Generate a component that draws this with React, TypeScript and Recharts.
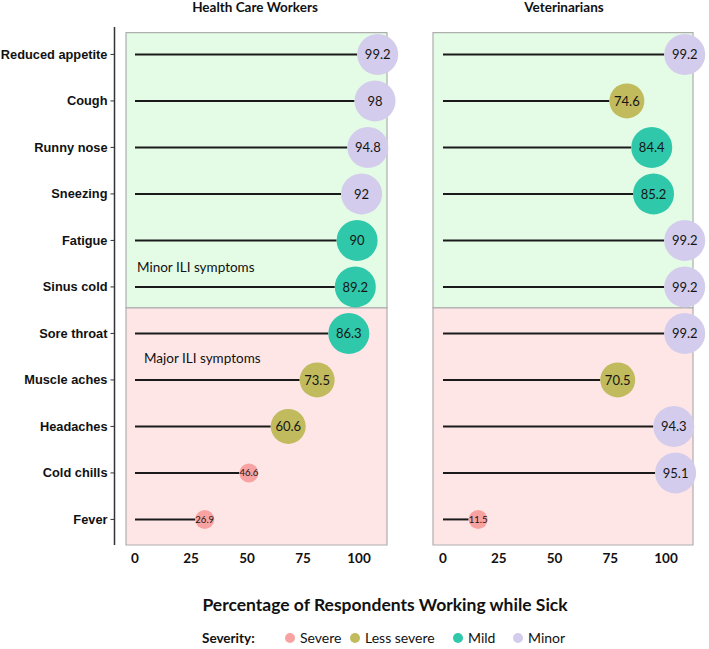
import React from 'react';
import {
  ScatterChart, Scatter, XAxis, YAxis, ReferenceArea, ReferenceLine, ReferenceDot,
} from 'recharts';

const symptoms = [
  'Reduced appetite', 'Cough', 'Runny nose', 'Sneezing', 'Fatigue', 'Sinus cold',
  'Sore throat', 'Muscle aches', 'Headaches', 'Cold chills', 'Fever',
];
const hcwValues = [99.2, 98, 94.8, 92, 90, 89.2, 86.3, 73.5, 60.6, 46.6, 26.9];
const hcwSeverity = ['Minor', 'Minor', 'Minor', 'Minor', 'Mild', 'Mild', 'Mild', 'Less severe', 'Less severe', 'Severe', 'Severe'];
const vetValues = [99.2, 74.6, 84.4, 85.2, 99.2, 99.2, 99.2, 70.5, 94.3, 95.1, 11.5];
const vetSeverity = ['Minor', 'Less severe', 'Mild', 'Mild', 'Minor', 'Minor', 'Minor', 'Less severe', 'Minor', 'Minor', 'Severe'];
const severityLevels = ['Severe', 'Less severe', 'Mild', 'Minor'];
const xTicks = [0, 25, 50, 75, 100];
const panelTitles = ['Health Care Workers', 'Veterinarians'];
const groupLabels = ['Minor ILI symptoms', 'Major ILI symptoms'];

const sevColor: Record<string, string> = {
  Severe: '#F9A2A2',
  'Less severe': '#C1BB5E',
  Mild: '#30C8AA',
  Minor: '#D4CCEC',
};
const sevRadius: Record<string, number> = {
  Severe: 9.5,
  'Less severe': 17.5,
  Mild: 20.5,
  Minor: 20.5,
};

const build = (vals: number[], sev: string[]) =>
  vals.map((v, i) => ({ x: v, y: i, sev: sev[i], name: symptoms[i] }));
const hcwData = build(hcwValues, hcwSeverity);
const vetData = build(vetValues, vetSeverity);

const Y_DOMAIN: [number, number] = [-0.59, 10.55];
const yTicks = symptoms.map((_, i) => i);

const Bubble = (props: any) => {
  const { cx, cy, payload } = props;
  if (cx == null || cy == null) return null;
  const r = sevRadius[payload.sev];
  const small = payload.sev === 'Severe';
  return (
    <g>
      <circle cx={cx + r} cy={cy} r={r} fill={sevColor[payload.sev]} />
      <text
        x={cx + r}
        y={cy}
        textAnchor="middle"
        dominantBaseline="central"
        fontFamily="Lato, 'Open Sans', sans-serif"
        fontSize={small ? 9.5 : 13}
        fill="#151515"
      >
        {payload.x}
      </text>
    </g>
  );
};

const tickStyle = { fontFamily: 'Lato, sans-serif', fontWeight: 700, fontSize: 13.5, fill: '#111' };
const GREEN = '#E4FCE6';
const PINK = '#FEE6E7';
const BORDER = '#AEAEAE';

function Panel({ data, left, width, margin, xDomain, areaX, showY, showLabels }: any) {
  return (
    <div style={{ position: 'absolute', left, top: 0 }}>
      <ScatterChart width={width} height={649} margin={margin}>
        <XAxis
          type="number"
          dataKey="x"
          domain={xDomain}
          ticks={xTicks}
          interval={0}
          axisLine={false}
          tickLine={false}
          tick={tickStyle}
          height={30}
        />
        <YAxis
          type="number"
          dataKey="y"
          domain={Y_DOMAIN}
          reversed
          ticks={yTicks}
          interval={0}
          hide={!showY}
          width={showY ? 114.5 : 0}
          tickFormatter={(i: number) => symptoms[i] ?? ''}
          tickSize={4}
          tickMargin={3}
          axisLine={{ stroke: '#333', strokeWidth: 1.5 }}
          tickLine={{ stroke: '#333' }}
          tick={{ fontFamily: "'Liberation Sans', Arial, sans-serif", fontWeight: 700, fontSize: 12.8, fill: '#111' }}
        />
        <ReferenceArea x1={areaX[0]} x2={areaX[1]} y1={-0.47} y2={5.45} fill={GREEN} fillOpacity={1} stroke={BORDER} strokeWidth={1.2} />
        <ReferenceArea x1={areaX[0]} x2={areaX[1]} y1={5.45} y2={10.55} fill={PINK} fillOpacity={1} stroke={BORDER} strokeWidth={1.2} />
        {data.map((d: any) => (
          <ReferenceLine
            key={d.name}
            segment={[{ x: 0, y: d.y }, { x: d.x, y: d.y }]}
            stroke="#1a1a1a"
            strokeWidth={2}
          />
        ))}
        {showLabels && (
          <ReferenceDot
            x={0.9}
            y={4.57}
            r={0}
            fill="none"
            stroke="none"
            label={{ value: groupLabels[0], position: 'right', offset: 0, fill: '#111', fontSize: 13.5, fontFamily: 'Lato, sans-serif' }}
          />
        )}
        {showLabels && (
          <ReferenceDot
            x={4}
            y={6.53}
            r={0}
            fill="none"
            stroke="none"
            label={{ value: groupLabels[1], position: 'right', offset: 0, fill: '#111', fontSize: 13.5, fontFamily: 'Lato, sans-serif' }}
          />
        )}
        <Scatter data={data} shape={Bubble} isAnimationActive={false} />
      </ScatterChart>
    </div>
  );
}

export default function App() {
  const legendX = [290, 355, 458, 518];
  return (
    <div style={{ position: 'absolute', left: 0, top: 0, width: 709, height: 649, background: '#fff' }}>
      <svg width={709} height={649} style={{ position: 'absolute', left: 0, top: 0 }}>
        <text x={255} y={12} textAnchor="middle" fontFamily="Lato, sans-serif" fontWeight={700} fontSize={13.5} fill="#111">{panelTitles[0]}</text>
        <text x={564} y={12} textAnchor="middle" fontFamily="Lato, sans-serif" fontWeight={700} fontSize={13.5} fill="#111">{panelTitles[1]}</text>
        <text x={385} y={611} textAnchor="middle" fontFamily="Lato, sans-serif" fontWeight={700} fontSize={17.5} fill="#111">Percentage of Respondents Working while Sick</text>
        <text x={202} y={643} fontFamily="Lato, sans-serif" fontWeight={700} fontSize={13.5} fill="#111">Severity:</text>
        {severityLevels.map((s, i) => (
          <g key={s}>
            <circle cx={legendX[i]} cy={638} r={5} fill={sevColor[s]} />
            <text x={legendX[i] + 10} y={643} fontFamily="Lato, sans-serif" fontSize={14} fill="#111">{s}</text>
          </g>
        ))}
      </svg>
      <Panel
        data={hcwData}
        left={0}
        width={420}
        margin={{ top: 27, right: 33, bottom: 74, left: 0 }}
        xDomain={[-9.15, 112.5]}
        areaX={[-4.0, 112.5]}
        showY
        showLabels
      />
      <Panel
        data={vetData}
        left={400}
        width={309}
        margin={{ top: 27, right: 16, bottom: 74, left: 33 }}
        xDomain={[-4.48, 112.1]}
        areaX={[-4.48, 112.1]}
        showY={false}
        showLabels={false}
      />
    </div>
  );
}
